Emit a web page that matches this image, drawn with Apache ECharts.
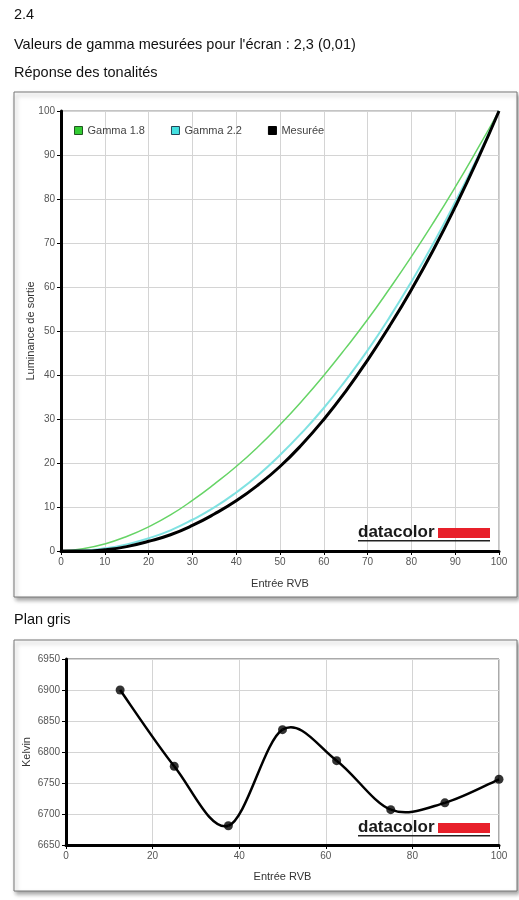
<!DOCTYPE html>
<html>
<head>
<meta charset="utf-8">
<script src="https://cdn.jsdelivr.net/npm/echarts@6/dist/echarts.min.js"></script>
<style>
body{margin:0;background:#fff}
#main{width:519px;height:900px}
</style>
</head>
<body>
<div id="main"></div>
<script>
/* global echarts */

// tone response, every 5 units of RGB input
var inputRGB = [0,5,10,15,20,25,30,35,40,45,50,55,60,65,70,75,80,85,90,95,100]
var gamma18 = [0,0.5,1.6,3.3,5.5,8.2,11.5,15.2,19.2,23.7,28.7,34.1,39.9,46.1,52.6,59.6,66.9,74.6,82.7,91.2,100]
var gamma22 = [0,0.1,0.6,1.5,2.9,4.7,7.1,9.9,13.3,17.2,21.8,26.9,32.5,38.8,45.6,53.1,61.2,69.9,79.3,89.3,100]
var measured = [0,0,0.3,1.0,2.2,3.7,5.8,8.4,11.4,15.0,19.2,24.2,29.9,36.3,43.4,51.1,59.4,68.4,78.2,88.7,100]

// grey plane
var greyInput = [12.5,25,37.5,50,62.5,75,87.5,100]
var greyKelvin = [6900,6777,6681,6836,6786,6707,6718,6756]

var legendNames = ['Gamma 1.8','Gamma 2.2','Mesurée']

var font = 'Arial, "Liberation Sans", sans-serif'

function pairs(xs, ys){
	return xs.map(function(x, i){ return [x, ys[i]] })
}

function logo(x, y){
	return [
		{type:'text', x:x, y:y, z:100, style:{text:'datacolor', fill:'#1a1a1a', font:'bold 17px ' + font, textVerticalAlign:'middle'}},
		{type:'rect', z:100, shape:{x:x + 80, y:y - 4, width:52, height:10}, style:{fill:'#e8202a'}},
		{type:'rect', z:100, shape:{x:x, y:y + 8, width:132, height:1.5}, style:{fill:'#222'}}
	]
}

function box(y, h){
	return {type:'rect', z:-10, shape:{x:14, y:y, width:503, height:h},
		style:{fill:'#fff', stroke:'#777', lineWidth:1, shadowBlur:4, shadowOffsetX:2, shadowOffsetY:3, shadowColor:'rgba(0,0,0,0.35)'}}
}

function heading(text, y){
	return {type:'text', x:14, y:y, style:{text:text, fill:'#111', font:'14.5px ' + font, textVerticalAlign:'middle'}}
}

function valueAxis(idx, min, max, interval, name, gap, pos){
	return {
		type:'value', gridIndex:idx, min:min, max:max, interval:interval,
		name:name, nameLocation:'middle', nameGap:gap, nameMoveOverlap:false,
		nameTextStyle:{color:'#333', fontSize:11, fontFamily:font},
		position:pos,
		axisLine:{show:true, onZero:false, lineStyle:{color:'#000', width:3}},
		axisTick:{show:true, length:4, lineStyle:{color:'#000'}},
		axisLabel:{color:'#555', fontSize:10, fontFamily:font, margin:6, formatter:function(v){ return String(v) }},
		splitLine:{show:true, lineStyle:{color:'#d4d4d4', width:1}}
	}
}

// spline through the grey plane points (Catmull-Rom drawn as bezier pieces)
function renderSpline(params, api){
	if(params.dataIndex !== 0) return null
	var pts = greyInput.map(function(x, i){ return api.coord([x, greyKelvin[i]]) })
	var kids = []
	for(var i = 0; i < pts.length - 1; i++){
		var p0 = pts[Math.max(i - 1, 0)], p1 = pts[i], p2 = pts[i + 1], p3 = pts[Math.min(i + 2, pts.length - 1)]
		kids.push({type:'bezierCurve', shape:{
			x1:p1[0], y1:p1[1], x2:p2[0], y2:p2[1],
			cpx1:p1[0] + (p2[0] - p0[0]) / 6, cpy1:p1[1] + (p2[1] - p0[1]) / 6,
			cpx2:p2[0] - (p3[0] - p1[0]) / 6, cpy2:p2[1] - (p3[1] - p1[1]) / 6
		}, style:{stroke:'#000', lineWidth:2.5, fill:null}})
	}
	return {type:'group', children:kids}
}

var charts = echarts.init(document.getElementById('main'))

charts.setOption({
	animation:false,
	graphic:[
		heading('2.4', 15),
		heading('Valeurs de gamma mesurées pour l\'écran : 2,3 (0,01)', 45),
		heading('Réponse des tonalités', 73),
		heading('Plan gris', 620),
		box(92, 505),
		box(640, 251)
	].concat(logo(358, 532), logo(358, 827)),
	legend:{
		data:[
			{name:legendNames[0], itemStyle:{color:'#33cc33', borderColor:'#225522', borderWidth:1}},
			{name:legendNames[1], itemStyle:{color:'#44e0e0', borderColor:'#224455', borderWidth:1}},
			{name:legendNames[2], itemStyle:{color:'#000', borderColor:'#000', borderWidth:1}}
		],
		left:74, top:125, padding:0, itemWidth:8, itemHeight:8, itemGap:26,
		icon:'rect',
		textStyle:{color:'#444', fontSize:11, fontFamily:font}
	},
	grid:[
		{left:61, top:111, width:438, height:440, show:true, borderColor:'#888', borderWidth:1},
		{left:66, top:659, width:433, height:186, show:true, borderColor:'#555', borderWidth:1}
	],
	xAxis:[
		valueAxis(0, 0, 100, 10, 'Entrée RVB', 27, 'bottom'),
		valueAxis(1, 0, 100, 20, 'Entrée RVB', 26, 'bottom')
	],
	yAxis:[
		valueAxis(0, 0, 100, 10, 'Luminance de sortie', 25, 'left'),
		valueAxis(1, 6650, 6950, 50, 'Kelvin', 34, 'left')
	],
	series:[
		{name:legendNames[0], type:'line', xAxisIndex:0, yAxisIndex:0, smooth:true, showSymbol:false,
			data:pairs(inputRGB, gamma18), lineStyle:{color:'#66d466', width:1.5}, itemStyle:{color:'#33cc33'}},
		{name:legendNames[1], type:'line', xAxisIndex:0, yAxisIndex:0, smooth:true, showSymbol:false,
			data:pairs(inputRGB, gamma22), lineStyle:{color:'#80e2e2', width:2}, itemStyle:{color:'#44e0e0'}},
		{name:legendNames[2], type:'line', xAxisIndex:0, yAxisIndex:0, smooth:true, showSymbol:false,
			data:pairs(inputRGB, measured), lineStyle:{color:'#000', width:3}, itemStyle:{color:'#000'}},
		{name:'Plan gris courbe', type:'custom', xAxisIndex:1, yAxisIndex:1,
			data:pairs(greyInput, greyKelvin), renderItem:renderSpline, z:3},
		{name:'Plan gris', type:'scatter', xAxisIndex:1, yAxisIndex:1,
			symbol:'circle', symbolSize:9, z:4,
			data:pairs(greyInput, greyKelvin), itemStyle:{color:'#000'}}
	]
})
</script>
</body>
</html>
